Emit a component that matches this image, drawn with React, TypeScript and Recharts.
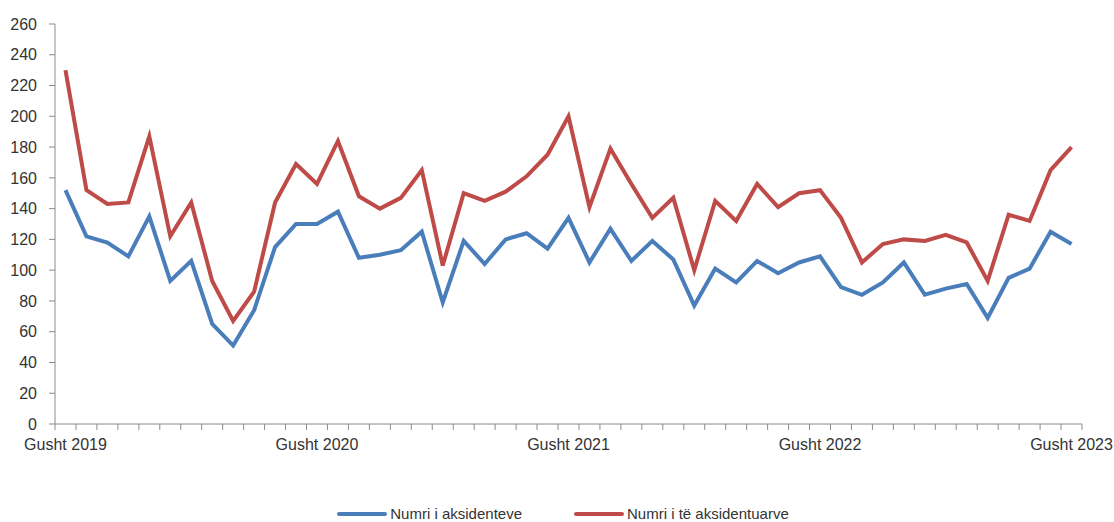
import { Line, LineChart, XAxis, YAxis } from 'recharts';

// Aug 2019 .. Aug 2023, one value per month
const accidents = [
  152, 122, 118, 109, 135, 93, 106, 65, 51, 74, 115, 130, 130, 138, 108, 110, 113, 125, 79, 119,
  104, 120, 124, 114, 134, 105, 127, 106, 119, 107, 77, 101, 92, 106, 98, 105, 109, 89, 84, 92,
  105, 84, 88, 91, 69, 95, 101, 125, 117,
];

const injured = [
  230, 152, 143, 144, 187, 122, 144, 93, 67, 86, 144, 169, 156, 184, 148, 140, 147, 165, 103, 150,
  145, 151, 161, 175, 200, 141, 179, 156, 134, 147, 100, 145, 132, 156, 141, 150, 152, 134, 105, 117,
  120, 119, 123, 118, 93, 136, 132, 165, 180,
];

const yearLabels = ['Gusht 2019', 'Gusht 2020', 'Gusht 2021', 'Gusht 2022', 'Gusht 2023'];
const yTicks = [0, 20, 40, 60, 80, 100, 120, 140, 160, 180, 200, 220, 240, 260];

const seriesNames = ['Numri i aksidenteve', 'Numri i të aksidentuarve'];
const colors = ['#4a7ebb', '#be4b48'];

const data = accidents.map((v, i) => ({ i, accidents: v, injured: injured[i] }));
const labelTicks = yearLabels.map((_, k) => k * 12);
const boundaryTicks = Array.from({ length: accidents.length + 1 }, (_, k) => k - 0.5);
const xDomain = [-0.5, accidents.length - 0.5];

const axisGray = '#8c8c8c';
const textColor = '#333333';
const font = '"Liberation Sans", Arial, sans-serif';

function LegendRow() {
  return (
    <div
      style={{
        position: 'absolute',
        top: 505,
        left: 0,
        width: 1114,
        display: 'flex',
        justifyContent: 'center',
        fontFamily: font,
        fontSize: 15,
        color: textColor,
        gap: 52,
        paddingLeft: 6,
      }}
    >
      {seriesNames.map((name, k) => (
        <div key={name} style={{ display: 'flex', alignItems: 'center', gap: 3 }}>
          <svg width={50} height={6}>
            <line x1={2} y1={3} x2={48} y2={3} stroke={colors[k]} strokeWidth={4} strokeLinecap="round" />
          </svg>
          <span>{name}</span>
        </div>
      ))}
    </div>
  );
}

export default function App() {
  return (
    <div style={{ position: 'absolute', top: 0, left: 0, width: 1114, height: 522, background: '#fff', overflow: 'hidden' }}>
      <LineChart width={1114} height={522} data={data} margin={{ top: 24, right: 32, left: 0, bottom: 67 }}>
        <XAxis
          xAxisId="a"
          type="number"
          dataKey="i"
          domain={xDomain}
          ticks={boundaryTicks}
          interval={0}
          height={1}
          tickSize={6}
          tickFormatter={() => ''}
          axisLine={{ stroke: axisGray }}
          tickLine={{ stroke: axisGray }}
        />
        <XAxis
          xAxisId="b"
          type="number"
          dataKey="i"
          domain={xDomain}
          ticks={labelTicks}
          interval={0}
          height={30}
          tickSize={0}
          tickMargin={14}
          axisLine={false}
          tickLine={false}
          tickFormatter={(v: number) => yearLabels[Math.round(v / 12)] ?? ''}
          tick={{ fill: textColor, fontSize: 16, fontFamily: font }}
        />
        <YAxis
          width={55}
          domain={[0, 260]}
          ticks={yTicks}
          interval={0}
          tickSize={6}
          tickMargin={12}
          axisLine={{ stroke: axisGray }}
          tickLine={{ stroke: axisGray }}
          tick={{ fill: textColor, fontSize: 16, fontFamily: font }}
        />
        <Line
          xAxisId="b"
          type="linear"
          dataKey="accidents"
          name={seriesNames[0]}
          stroke={colors[0]}
          strokeWidth={4}
          dot={false}
          activeDot={false}
          isAnimationActive={false}
        />
        <Line
          xAxisId="b"
          type="linear"
          dataKey="injured"
          name={seriesNames[1]}
          stroke={colors[1]}
          strokeWidth={4}
          dot={false}
          activeDot={false}
          isAnimationActive={false}
        />
      </LineChart>
      <LegendRow />
    </div>
  );
}
